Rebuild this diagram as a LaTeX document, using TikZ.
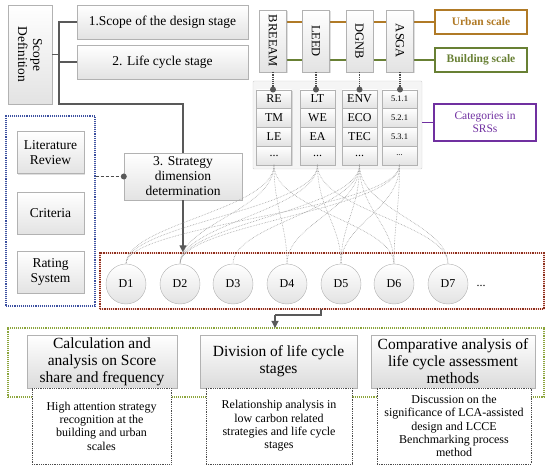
\documentclass[tikz,border=0pt]{standalone}
\usepackage{fontspec}
\setmainfont{Liberation Serif}
\usetikzlibrary{shadows,arrows.meta,calc}
\definecolor{urbanc}{RGB}{176,122,38}
\definecolor{bldc}{RGB}{104,128,52}
\definecolor{purc}{RGB}{112,48,160}
\definecolor{bluec}{RGB}{60,80,160}
\definecolor{redc}{RGB}{140,50,30}
\definecolor{greenc}{RGB}{140,165,60}
\begin{document}
\begin{tikzpicture}[x=1pt,y=-1pt,
  gbox/.style={draw=gray!60, top color=white, bottom color=gray!22,
    drop shadow={opacity=0.25,shadow xshift=1.2pt,shadow yshift=-1.2pt},
    inner sep=1pt, align=center, font=\fontsize{13.5}{15}\selectfont},
  conn/.style={draw=black!65, line width=1.1pt},
  tri/.style={-{Triangle[length=7pt,width=7pt]}},
  dotc/.style={circle, fill=black!65, inner sep=0pt, minimum size=6pt},
  cell/.style={gbox, minimum width=35, minimum height=18.5, font=\fontsize{12}{13}\selectfont},
  srs/.style={gbox, rotate=-90, minimum width=62, minimum height=27, font=\fontsize{12.5}{13}\selectfont},
  dcirc/.style={circle, draw=gray!60, top color=white, bottom color=gray!22, minimum size=40, inner sep=0pt, font=\fontsize{12}{13}\selectfont},
  dbox/.style={draw=black!70, densely dotted, line width=0.8pt, fill=white, align=center, font=\fontsize{12}{13.3}\selectfont},
  bigbox/.style={gbox, bottom color=gray!28, minimum height=53, font=\fontsize{15.5}{17}\selectfont},
  curve/.style={draw=gray!75, densely dotted, line width=0.6pt},
  vdot/.style={draw=black!70, densely dotted, line width=1.2pt}
]
\useasboundingbox (0,0) rectangle (550,470);

% ---------- scope definition ----------
\node[gbox, rotate=-90, minimum width=99, minimum height=44] (scope) at (30,54.5) {Scope\\Definition};
\node[gbox, minimum width=171, minimum height=34] (s1) at (162.5,22) {1.Scope of the design stage};
\node[gbox, minimum width=171, minimum height=34] (s2) at (162.5,62) {2. Life cycle stage};
\node[gbox, minimum width=118, minimum height=47, font=\fontsize{13.5}{15}\selectfont] (s3) at (183,176.5) {3. Strategy\\dimension\\determination};
\coordinate (jt) at (59,22);
\coordinate (jb) at (59,104);
\coordinate (jc) at (183,104);
\draw[conn] (s1.west) -- (jt) -- (jb) -- (jc) -- (s3.north);
\draw[conn] (s2.west) -- (s2.west -| jt);
\draw[conn] (scope) -- (scope -| jt);

% ---------- left blue box ----------
\node[draw=bluec, densely dotted, line width=1.1pt, minimum width=89, minimum height=190] (blue) at (50.5,211) {};
\node[gbox, minimum width=67, minimum height=42] (lit) at (50.5,152.5) {Literature\\Review};
\node[gbox, minimum width=67, minimum height=42] (crit) at (50.5,213) {Criteria};
\node[gbox, minimum width=67, minimum height=42] (rate) at (50.5,272) {Rating\\System};
\draw[draw=black!70, densely dashed, line width=1pt] (s3.west -| blue.east) -- (s3.west);
\node[dotc] (s3dot) at (s3.west) {};

% ---------- scale lines and SRS ----------
\node[draw=urbanc, line width=1.1pt, minimum width=92, minimum height=24, text=urbanc, font=\fontsize{11.5}{13}\selectfont\bfseries] (urban) at (481,22) {Urban scale};
\node[draw=bldc, line width=1.1pt, minimum width=92, minimum height=24, text=bldc, font=\fontsize{11.5}{13}\selectfont\bfseries] (bld) at (481,60) {Building scale};
\coordinate (ul) at (273,22);
\coordinate (bl) at (273,60);
\draw[urbanc, line width=1.1pt] (ul) -- (urban.west);
\draw[bldc, line width=1.1pt] (bl) -- (bld.west);
\node[srs] (br) at (273,41) {BREEAM};
\node[srs] (le) at (316,41) {LEED};
\node[srs] (dg) at (359.5,41) {DGNB};
\node[srs] (as) at (400,41) {ASGA};

% ---------- categories panel ----------
\node[draw=gray!35, fill=gray!8, minimum width=169, minimum height=88, rounded corners=1pt] (panel) at (337.5,125) {};
\node[draw=purc, line width=1.1pt, minimum width=102, minimum height=37, align=center, text=purc, font=\fontsize{11.5}{13.5}\selectfont] (cat) at (485,122.5) {Categories in\\SRSs};
\draw[purc, line width=1.1pt] (cat.west -| panel.east) -- (cat.west);

\foreach \ci/\cx/\ta/\tb/\tc in {1/274/RE/TM/LE, 2/317.5/LT/WE/EA, 3/359.5/ENV/ECO/TEC}{
  \node[cell] (c\ci1) at (\cx,99) {\ta};
  \node[cell] (c\ci2) at (\cx,117.5) {\tb};
  \node[cell] (c\ci3) at (\cx,136.5) {\tc};
  \node[cell] (c\ci4) at (\cx,155.5) {...};
}
\node[cell, font=\fontsize{8.5}{9}\selectfont] (c41) at (399.5,99) {5.1.1};
\node[cell, font=\fontsize{8.5}{9}\selectfont] (c42) at (399.5,117.5) {5.2.1};
\node[cell, font=\fontsize{8.5}{9}\selectfont] (c43) at (399.5,136.5) {5.3.1};
\node[cell, font=\fontsize{8.5}{9}\selectfont] (c44) at (399.5,155.5) {...};

\draw[vdot] (br.east) -- (br.east |- c11.north);
\draw[vdot] (le.east) -- (le.east |- c21.north);
\draw[vdot] (dg.east) -- (dg.east |- c31.north);
\draw[vdot] (as.east) -- (as.east |- c41.north);
\node[dotc] at (br.east |- c11.north) {};
\node[dotc] at (le.east |- c21.north) {};
\node[dotc] at (dg.east |- c31.north) {};
\node[dotc] at (as.east |- c41.north) {};

% ---------- dimensions ----------
\node[draw=pink!45, line width=2.6pt, minimum width=444, minimum height=56] (redglow) at (322,281) {};
\node[draw=redc, densely dotted, line width=1.2pt, minimum width=444, minimum height=56] (red) at (322,281) {};
\draw[conn, tri] (s3.south) -- (s3.south |- red.north);

\foreach \i/\x in {1/126,2/180,3/233,4/287,5/341,6/394,7/448}{
  \coordinate (Dp\i) at (\x,264);
}
\foreach \ci/\di in {1/1,1/2,1/4,1/6,2/1,2/2,2/5,2/7,3/2,3/3,3/4,3/5,3/6,3/7,4/1,4/2,4/5,4/6}{
  \draw[curve] (c\ci4.south) .. controls +(0,45) and +(0,-40) .. (Dp\di);
}
\foreach \i/\x in {1/126,2/180,3/233,4/287,5/341,6/394,7/448}{
  \node[dcirc] (D\i) at (\x,284) {D\i};
}
\node[font=\fontsize{12}{13}\selectfont] (dd) at (481,286) {...};

% ---------- bottom ----------
\node[draw=greenc, densely dotted, line width=1.1pt, minimum width=536, minimum height=69] (green) at (276,362.5) {};
\coordinate (a1) at (321,309);
\coordinate (a2) at (321,315);
\coordinate (a3) at (275,315);
\coordinate (a4) at (275,328);
\draw[conn] (a1) -- (a2) -- (a3);
\draw[conn, tri] (a3) -- (a4);

\node[bigbox, minimum width=150] (b1) at (102,361.5) {Calculation and\\analysis on Score\\share and frequency};
\node[bigbox, minimum width=157] (b2) at (278.5,361.5) {Division of life cycle\\stages};
\node[bigbox, minimum width=164] (b3) at (453,361.5) {Comparative analysis of\\life cycle assessment\\methods};

\node[dbox, minimum width=139, minimum height=76] (e1) at (101.5,426) {High attention strategy\\recognition at the\\building and urban\\scales};
\node[dbox, minimum width=146, minimum height=76] (e2) at (279,426) {Relationship analysis in\\low carbon related\\strategies and life cycle\\stages};
\node[dbox, minimum width=154, minimum height=76] (e3) at (454,426) {Discussion on the\\significance of LCA-assisted\\design and LCCE\\Benchmarking process\\method};
\end{tikzpicture}
\end{document}
